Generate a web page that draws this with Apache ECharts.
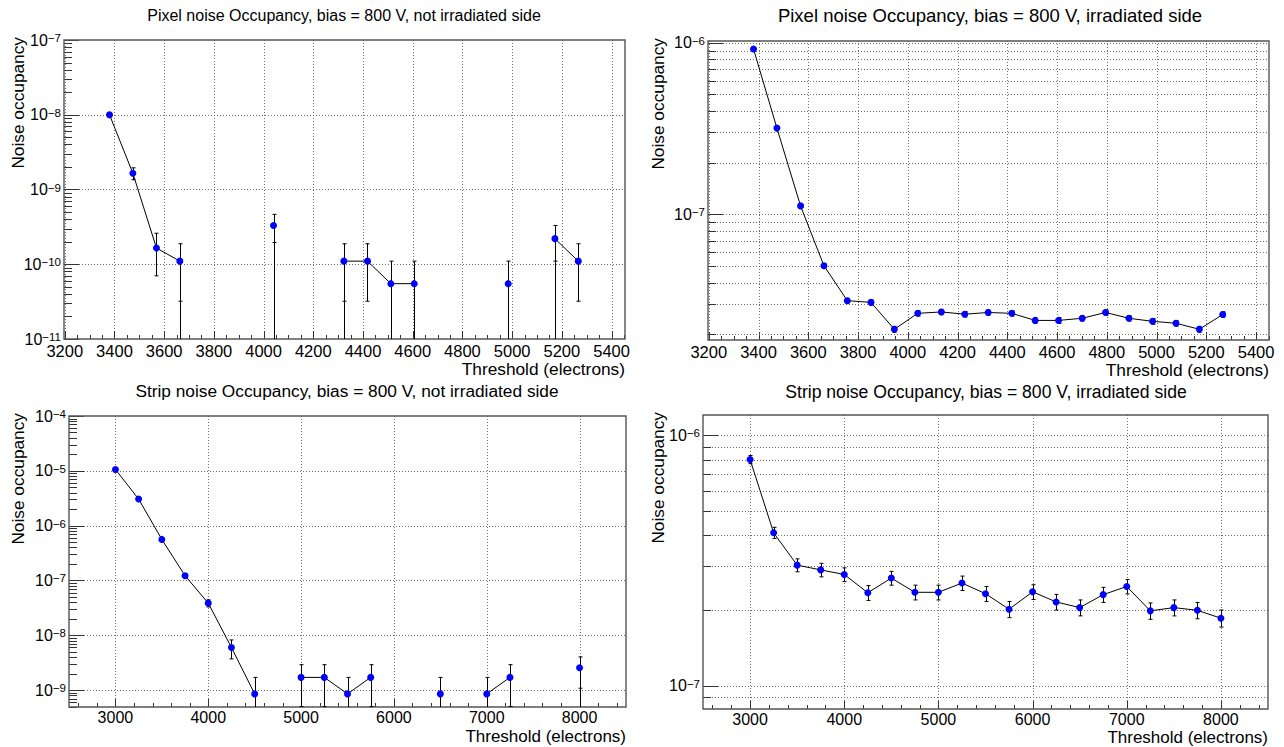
<!DOCTYPE html>
<html>
<head>
<meta charset="utf-8">
<script src="https://cdn.jsdelivr.net/npm/echarts@6/dist/echarts.min.js"></script>
<style>
  html, body { margin: 0; padding: 0; background: #ffffff; }
  #main { width: 1284px; height: 747px; }
</style>
</head>
<body>
<div id="main"></div>
<script>
// Threshold scan points (electrons)
const pixelThreshold = [3380, 3474, 3569, 3663, 3757, 3852, 3946, 4040, 4135, 4229, 4323,
                        4418, 4512, 4606, 4701, 4795, 4889, 4984, 5078, 5172, 5266];
const stripThreshold = [3000, 3250, 3500, 3750, 4000, 4250, 4500, 4750, 5000, 5250, 5500,
                        5750, 6000, 6250, 6500, 6750, 7000, 7250, 7500, 7750, 8000];

// Noise occupancy per threshold; 0 means no noise hit was recorded
const pixelNotIrrOcc = [1.0e-8, 1.65e-9, 1.65e-10, 1.1e-10, 0, 0, 0, 3.3e-10, 0, 0, 1.1e-10,
                        1.1e-10, 5.5e-11, 5.5e-11, 0, 0, 0, 5.5e-11, 0, 2.2e-10, 1.1e-10];
const pixelNotIrrErr = [7.4e-10, 3.0e-10, 9.5e-11, 7.8e-11, 0, 0, 0, 1.35e-10, 0, 0, 7.8e-11,
                        7.8e-11, 5.5e-11, 5.5e-11, 0, 0, 0, 5.5e-11, 0, 1.1e-10, 7.8e-11];

const pixelIrrOcc = [9.18e-7, 3.18e-7, 1.12e-7, 5.02e-8, 3.14e-8, 3.07e-8, 2.14e-8, 2.65e-8,
                     2.70e-8, 2.62e-8, 2.68e-8, 2.65e-8, 2.41e-8, 2.41e-8, 2.48e-8, 2.68e-8,
                     2.48e-8, 2.38e-8, 2.32e-8, 2.14e-8, 2.61e-8];
const pixelIrrErr = [5.5e-9, 3.2e-9, 1.9e-9, 1.3e-9, 1.0e-9, 1.0e-9, 8.5e-10, 9.5e-10,
                     9.5e-10, 9.5e-10, 9.5e-10, 9.5e-10, 9.0e-10, 9.0e-10, 9.0e-10, 9.5e-10,
                     9.0e-10, 9.0e-10, 8.8e-10, 8.5e-10, 9.4e-10];

const stripNotIrrOcc = [1.06e-5, 3.05e-6, 5.6e-7, 1.22e-7, 3.85e-8, 5.95e-9, 8.5e-10, 0,
                        1.7e-9, 1.7e-9, 8.5e-10, 1.7e-9, 0, 0, 8.5e-10, 0, 8.5e-10, 1.7e-9,
                        0, 0, 2.55e-9];
const stripNotIrrErr = [9.5e-8, 5.1e-8, 2.2e-8, 1.0e-8, 5.7e-9, 2.25e-9, 8.5e-10, 0,
                        1.2e-9, 1.2e-9, 8.5e-10, 1.2e-9, 0, 0, 8.5e-10, 0, 8.5e-10, 1.2e-9,
                        0, 0, 1.47e-9];

const stripIrrOcc = [8.0e-7, 4.08e-7, 3.03e-7, 2.90e-7, 2.78e-7, 2.35e-7, 2.69e-7, 2.36e-7,
                     2.36e-7, 2.57e-7, 2.33e-7, 2.02e-7, 2.37e-7, 2.16e-7, 2.05e-7, 2.31e-7,
                     2.49e-7, 1.99e-7, 2.05e-7, 2.00e-7, 1.86e-7];
const stripIrrErr = [3.0e-8, 2.1e-8, 1.8e-8, 1.8e-8, 1.75e-8, 1.6e-8, 1.7e-8, 1.6e-8,
                     1.6e-8, 1.7e-8, 1.6e-8, 1.5e-8, 1.6e-8, 1.55e-8, 1.5e-8, 1.6e-8,
                     1.65e-8, 1.5e-8, 1.5e-8, 1.5e-8, 1.45e-8];

// Axis tick labels
const pixelTickLabels = [3200, 3400, 3600, 3800, 4000, 4200, 4400, 4600, 4800, 5000, 5200, 5400];
const stripTickLabels = [3000, 4000, 5000, 6000, 7000, 8000];
const pixelNotIrrDecades = [1e-11, 1e-10, 1e-9, 1e-8, 1e-7];
const pixelIrrDecades = [1e-7, 1e-6];
const stripNotIrrDecades = [1e-9, 1e-8, 1e-7, 1e-6, 1e-5, 1e-4];
const stripIrrDecades = [1e-7, 1e-6];

const FONT = '"Liberation Sans", Arial, Helvetica, sans-serif';

const panels = [
  { title: 'Pixel noise Occupancy, bias = 800 V, not irradiated side', titleSize: 16, titleX: 344, titleTop: 7,
    grid: { left: 64, top: 40, width: 561, height: 299 },
    x: pixelThreshold, y: pixelNotIrrOcc, err: pixelNotIrrErr,
    xMin: 3197, xMax: 5454, yMin: 1e-11, yMax: 1e-7,
    xLabels: pixelTickLabels, xMinorStep: 50, yLabels: pixelNotIrrDecades, denseGrid: false,
    yNamePad: 38, xNamePad: 21, labelSize: 16.5, labelMargin: 4, nameSize: 17.3 },
  { title: 'Pixel noise Occupancy, bias = 800 V, irradiated side', titleSize: 18.5, titleX: 990, titleTop: 6,
    grid: { left: 708, top: 41, width: 561, height: 299 },
    x: pixelThreshold, y: pixelIrrOcc, err: pixelIrrErr,
    xMin: 3197, xMax: 5452, yMin: 1.853e-8, yMax: 1.023e-6,
    xLabels: pixelTickLabels, xMinorStep: 50, yLabels: pixelIrrDecades, denseGrid: true,
    yNamePad: 42, xNamePad: 21, labelSize: 16.5, labelMargin: 4, nameSize: 17.3 },
  { title: 'Strip noise Occupancy, bias = 800 V, not irradiated side', titleSize: 17.3, titleX: 347, titleTop: 382,
    grid: { left: 69, top: 416, width: 557, height: 291 },
    x: stripThreshold, y: stripNotIrrOcc, err: stripNotIrrErr,
    xMin: 2500, xMax: 8500, yMin: 4.9e-10, yMax: 1e-4,
    xLabels: stripTickLabels, xMinorStep: 200, yLabels: stripNotIrrDecades, denseGrid: false,
    yNamePad: 43, xNamePad: 21, labelSize: 16, labelMargin: 2, nameSize: 17 },
  { title: 'Strip noise Occupancy, bias = 800 V, irradiated side', titleSize: 17.6, titleX: 986, titleTop: 382.5,
    grid: { left: 703, top: 415, width: 565, height: 294 },
    x: stripThreshold, y: stripIrrOcc, err: stripIrrErr,
    xMin: 2500, xMax: 8500, yMin: 8.07e-8, yMax: 1.205e-6,
    xLabels: stripTickLabels, xMinorStep: 200, yLabels: stripIrrDecades, denseGrid: true,
    yNamePad: 37, xNamePad: 20, labelSize: 16, labelMargin: 2, nameSize: 17 }
];

// 10^n label with the exponent raised
function powerLabel(v) {
  const l = Math.log10(v);
  const e = Math.round(l);
  if (Math.abs(l - e) > 1e-6) return '';
  return '{b|10}{e|' + (e < 0 ? '\u2212' : '') + Math.abs(e) + '}';
}

// Log minor positions 2..9 x 10^d inside [lo, hi]
function logMinors(lo, hi) {
  const out = [];
  for (let d = Math.floor(Math.log10(lo)) - 1; d <= Math.ceil(Math.log10(hi)); d++) {
    for (let m = 2; m <= 9; m++) {
      const v = m * Math.pow(10, d);
      if (v > lo && v < hi) out.push(v);
    }
  }
  return out;
}
function logMajors(lo, hi) {
  const out = [];
  for (let d = Math.floor(Math.log10(lo)) - 1; d <= Math.ceil(Math.log10(hi)); d++) {
    const v = Math.pow(10, d);
    if (v >= lo * 0.999999 && v <= hi * 1.000001) out.push(v);
  }
  return out;
}
function linMinors(lo, hi, step) {
  const out = [];
  for (let v = Math.ceil(lo / step) * step; v <= hi; v += step) out.push(v);
  return out;
}

const crisp = v => Math.round(v) + 0.5;

// Frame, dotted grid and inward ticks of one pad
function frameSeries(i, p) {
  const yMaj = logMajors(p.yMin, p.yMax);
  const yMin2 = logMinors(p.yMin, p.yMax);
  const xMin2 = linMinors(p.xMin, p.xMax, p.xMinorStep).filter(v => p.xLabels.indexOf(v) < 0);
  const yGrid = p.denseGrid ? yMaj.concat(yMin2) : yMaj;
  return {
    type: 'custom', xAxisIndex: i, yAxisIndex: i, silent: true, z: 1,
    data: [[p.xMin, p.yMin]],
    renderItem(params, api) {
      const cs = params.coordSys;
      const L = cs.x, R = cs.x + cs.width, T = cs.y, B = cs.y + cs.height;
      const gridStyle = { stroke: '#707070', lineWidth: 1, lineDash: [1, 2] };
      const tickStyle = { stroke: '#333333', lineWidth: 1 };
      const ch = [];
      const xPix = v => crisp(api.coord([v, p.yMin])[0]);
      const yPix = v => crisp(api.coord([p.xMin, v])[1]);
      p.xLabels.forEach(v => {
        const x = xPix(v);
        ch.push({ type: 'line', shape: { x1: x, y1: T, x2: x, y2: B }, style: gridStyle });
        ch.push({ type: 'line', shape: { x1: x, y1: B, x2: x, y2: B - 8 }, style: tickStyle });
      });
      xMin2.forEach(v => {
        const x = xPix(v);
        ch.push({ type: 'line', shape: { x1: x, y1: B, x2: x, y2: B - 4 }, style: tickStyle });
      });
      yGrid.forEach(v => {
        const y = yPix(v);
        if (y <= T + 1 || y >= B - 1) return;
        ch.push({ type: 'line', shape: { x1: L, y1: y, x2: R, y2: y }, style: gridStyle });
      });
      yMaj.forEach(v => {
        const y = yPix(v);
        ch.push({ type: 'line', shape: { x1: L, y1: y, x2: L + 15, y2: y }, style: tickStyle });
      });
      yMin2.forEach(v => {
        const y = yPix(v);
        ch.push({ type: 'line', shape: { x1: L, y1: y, x2: L + 8, y2: y }, style: tickStyle });
      });
      ch.push({ type: 'rect', shape: { x: crisp(L) - 0.5, y: crisp(T) - 0.5, width: Math.round(R) - Math.round(L), height: Math.round(B) - Math.round(T) },
                style: { fill: null, stroke: '#555555', lineWidth: 1.4 } });
      return { type: 'group', children: ch };
    }
  };
}

// Vertical error bars; points next to an empty reading drop to the axis floor
function errorSeries(i, p) {
  const data = [];
  p.x.forEach((x, k) => {
    const v = p.y[k];
    if (!(v > 0)) return;
    const prevEmpty = k > 0 && !(p.y[k - 1] > 0);
    const nextEmpty = k < p.x.length - 1 && !(p.y[k + 1] > 0);
    data.push([x, v, p.err[k], (prevEmpty || nextEmpty) ? 1 : 0]);
  });
  return {
    type: 'custom', xAxisIndex: i, yAxisIndex: i, silent: true, z: 3,
    data,
    renderItem(params, api) {
      const cs = params.coordSys;
      const T = cs.y, B = cs.y + cs.height;
      const x = api.value(0), v = api.value(1), e = api.value(2), drop = api.value(3);
      const pt = api.coord([x, v]);
      const px = crisp(pt[0]);
      const hi = Math.max(T, api.coord([x, v + e])[1]);
      const lowVal = v - e;
      const lo = lowVal > 0 ? Math.min(B, api.coord([x, lowVal])[1]) : B;
      const st = { stroke: '#000000', lineWidth: 1 };
      const ch = [{ type: 'line', shape: { x1: px, y1: hi, x2: px, y2: lo }, style: st }];
      if (hi > T) ch.push({ type: 'line', shape: { x1: px - 2, y1: hi, x2: px + 2, y2: hi }, style: st });
      if (lowVal > 0 && lo < B) ch.push({ type: 'line', shape: { x1: px - 2, y1: lo, x2: px + 2, y2: lo }, style: st });
      if (drop) ch.push({ type: 'line', shape: { x1: px, y1: pt[1], x2: px, y2: B }, style: st });
      return { type: 'group', children: ch };
    }
  };
}

const option = {
  animation: false,
  backgroundColor: '#ffffff',
  textStyle: { fontFamily: FONT, color: '#000000' },
  title: panels.map(p => ({
    text: p.title, left: p.titleX, top: p.titleTop, textAlign: 'center', padding: 0,
    textStyle: { fontFamily: FONT, fontSize: p.titleSize, fontWeight: 'normal', color: '#000000' }
  })),
  grid: panels.map(p => Object.assign({ containLabel: false, outerBoundsMode: 'none' }, p.grid)),
  xAxis: panels.map((p, i) => ({
    type: 'value', gridIndex: i, min: p.xMin, max: p.xMax,
    axisLine: { show: false }, axisTick: { show: false }, splitLine: { show: false },
    axisLabel: { customValues: p.xLabels, fontSize: p.labelSize, margin: p.labelMargin, lineHeight: p.labelSize,
                 color: '#000000', fontFamily: FONT, formatter: v => String(Math.round(v)) },
    name: 'Threshold (electrons)', nameLocation: 'end', nameGap: 0, nameMoveOverlap: false,
    nameTextStyle: { fontSize: p.nameSize, lineHeight: p.nameSize, color: '#000000', fontFamily: FONT,
                     align: 'right', verticalAlign: 'top', padding: [p.xNamePad, 0, 0, 0] }
  })),
  yAxis: panels.map((p, i) => ({
    type: 'log', logBase: 10, gridIndex: i, min: p.yMin, max: p.yMax,
    axisLine: { show: false }, axisTick: { show: false }, splitLine: { show: false },
    axisLabel: {
      customValues: p.yLabels, margin: 3, formatter: powerLabel,
      rich: {
        b: { fontSize: 16, lineHeight: 16, verticalAlign: 'bottom', color: '#000000', fontFamily: FONT },
        e: { fontSize: 11.5, lineHeight: 11, verticalAlign: 'top', color: '#000000', fontFamily: FONT }
      }
    },
    name: 'Noise occupancy', nameLocation: 'end', nameGap: 3, nameRotate: 90, nameMoveOverlap: false,
    nameTextStyle: { fontSize: 17.3, color: '#000000', fontFamily: FONT, align: 'right', verticalAlign: 'bottom', padding: [0, 0, p.yNamePad, 0] }
  })),
  series: []
};

panels.forEach((p, i) => {
  option.series.push(frameSeries(i, p));
  option.series.push(errorSeries(i, p));
  option.series.push({
    type: 'line', xAxisIndex: i, yAxisIndex: i, z: 4, silent: true, clip: true,
    data: p.x.map((x, k) => [x, p.y[k] > 0 ? p.y[k] : '-']),
    connectNulls: false,
    symbol: 'circle', symbolSize: 7, showAllSymbol: true,
    itemStyle: { color: '#0000ff', borderWidth: 0 },
    lineStyle: { color: '#000000', width: 1 },
    emphasis: { disabled: true }
  });
});

const chart = echarts.init(document.getElementById('main'), null, { renderer: 'svg', width: 1284, height: 747 });
chart.setOption(option);
</script>
</body>
</html>
